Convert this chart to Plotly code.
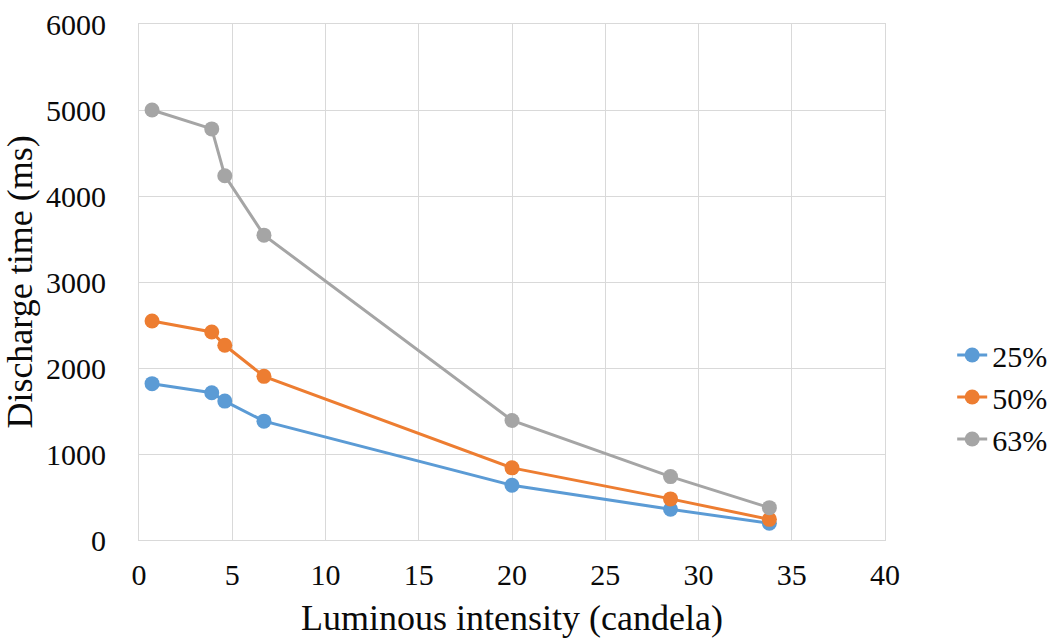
import plotly.graph_objects as go

x_vals = [0.7, 3.9, 4.6, 6.7, 20, 28.5, 33.8]
y_25 = [1818, 1713, 1615, 1382, 636, 357, 194]
y_50 = [2547, 2419, 2264, 1903, 839, 478, 240]
y_63 = [5000, 4780, 4236, 3545, 1390, 737, 376]
series_names = ["25%", "50%", "63%"]
colors = ["#5B9BD5", "#ED7D31", "#A5A5A5"]

FONT = "Times New Roman"
TXT = "#0a0a0a"
L, R, T, B = 139, 170, 24, 99
W, H = 1064, 639
pw = W - L - R
ph = H - T - B

fig = go.Figure()
for name, ys, c in zip(series_names, [y_25, y_50, y_63], colors):
    fig.add_trace(go.Scatter(
        x=x_vals, y=ys, name=name, mode="lines+markers",
        line=dict(color=c, width=3),
        marker=dict(color=c, size=15),
    ))

fig.update_layout(
    width=W, height=H,
    template="none",
    font=dict(family=FONT, size=30, color=TXT),
    margin=dict(l=L, r=R, t=T, b=B),
    plot_bgcolor="white",
    legend=dict(
        x=(962 - L) / pw, xanchor="left",
        y=(540 - 397) / ph, yanchor="middle",
        tracegroupgap=0,
    ),
    xaxis=dict(
        range=[0, 40], dtick=5,
        gridcolor="#D9D9D9", gridwidth=1,
        showline=True, linecolor="#D9D9D9", linewidth=1, mirror=True,
        zeroline=False, ticks="outside", ticklen=8, tickcolor="white",
        title=dict(text="Luminous intensity (candela)", standoff=14),
    ),
    yaxis=dict(
        range=[0, 6000], dtick=1000,
        gridcolor="#D9D9D9", gridwidth=1,
        showline=True, linecolor="#D9D9D9", linewidth=1, mirror=True,
        zeroline=False, ticks="outside", ticklen=26, tickcolor="white",
        title=dict(text="Discharge time (ms)", standoff=6),
    ),
)

fig.write_html("out.html")
